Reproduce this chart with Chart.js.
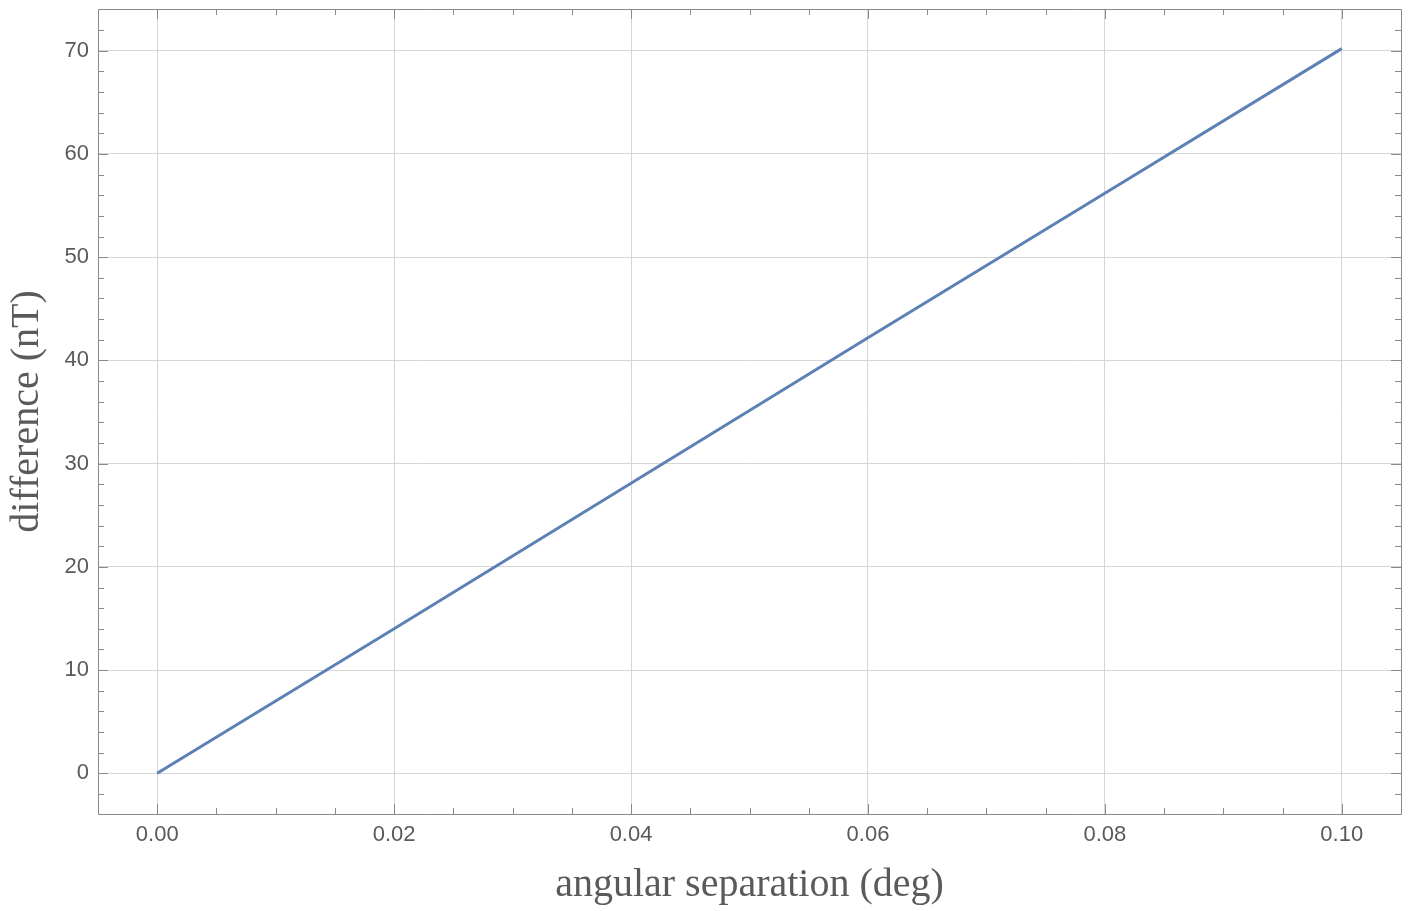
<!DOCTYPE html>
<html>
<head>
<meta charset="utf-8">
<script src="https://cdn.jsdelivr.net/npm/chart.js@4"></script>
<style>
  html, body { margin: 0; padding: 0; background: #fff; }
  canvas { display: block; }
</style>
</head>
<body>
<canvas id="plot" width="1412" height="911"></canvas>
<script>
// data
const separationDeg = [0, 0.02, 0.04, 0.06, 0.08, 0.10];
const differenceNT = [0, 14.0, 28.1, 42.2, 56.2, 70.2];

// axis ticks
const xTicks = [0, 0.02, 0.04, 0.06, 0.08, 0.10];
const yTicks = [0, 10, 20, 30, 40, 50, 60, 70];
const xMinorStep = 0.005;
const yMinorStep = 2;

const frameColor = '#8a8a8a';
const gridColor = '#d6d6d6';
const textColor = '#5a5a5a';

// frame with inward ticks on all four sides, like the original plot
const framePlugin = {
  id: 'frame',
  afterDraw(chart) {
    const { ctx, chartArea: a, scales } = chart;
    const xs = scales.x, ys = scales.y;
    ctx.save();
    ctx.strokeStyle = frameColor;
    ctx.lineWidth = 1;
    ctx.beginPath();
    ctx.rect(Math.round(a.left) + 0.5, Math.round(a.top) + 0.5,
      Math.round(a.right - a.left), Math.round(a.bottom - a.top));
    ctx.stroke();

    const tickX = (v, len) => {
      const px = Math.round(xs.getPixelForValue(v)) + 0.5;
      if (px < a.left + 1 || px > a.right - 1) return;
      ctx.moveTo(px, a.bottom); ctx.lineTo(px, a.bottom - len);
      ctx.moveTo(px, a.top); ctx.lineTo(px, a.top + len);
    };
    const tickY = (v, len) => {
      const py = Math.round(ys.getPixelForValue(v)) + 0.5;
      if (py < a.top + 1 || py > a.bottom - 1) return;
      ctx.moveTo(a.left, py); ctx.lineTo(a.left + len, py);
      ctx.moveTo(a.right, py); ctx.lineTo(a.right - len, py);
    };

    ctx.beginPath();
    for (let i = Math.ceil(xs.min / xMinorStep); i * xMinorStep <= xs.max; i++) {
      const v = i * xMinorStep;
      if (!xTicks.some(t => Math.abs(t - v) < 1e-9)) tickX(v, 6);
    }
    for (let i = Math.ceil(ys.min / yMinorStep); i * yMinorStep <= ys.max; i++) {
      const v = i * yMinorStep;
      if (!yTicks.includes(v)) tickY(v, 6);
    }
    xTicks.forEach(v => tickX(v, 10));
    yTicks.forEach(v => tickY(v, 10));
    ctx.stroke();
    ctx.restore();
  }
};

new Chart(document.getElementById('plot').getContext('2d'), {
  type: 'line',
  data: {
    datasets: [{
      data: separationDeg.map((x, i) => ({ x: x, y: differenceNT[i] })),
      borderColor: '#5e81b5',
      borderWidth: 3,
      pointRadius: 0,
      tension: 0,
      fill: false
    }]
  },
  options: {
    responsive: false,
    devicePixelRatio: 1,
    animation: false,
    layout: { autoPadding: false, padding: { top: 9, right: 11, left: 0, bottom: 0 } },
    plugins: { legend: { display: false }, tooltip: { enabled: false } },
    scales: {
      x: {
        type: 'linear',
        min: -0.005,
        max: 0.105,
        afterBuildTicks: s => { s.ticks = xTicks.map(v => ({ value: v })); },
        afterFit: s => { s.height = 97; s.paddingLeft = 0; s.paddingRight = 0; },
        grid: { color: gridColor, drawTicks: false },
        border: { display: false },
        ticks: {
          color: textColor,
          padding: 8,
          font: { family: 'Liberation Sans', size: 22 },
          callback: v => v.toFixed(2)
        },
        title: {
          display: true,
          text: 'angular separation (deg)',
          color: textColor,
          padding: { top: 0, bottom: 2 },
          font: { family: 'Liberation Serif', size: 40 }
        }
      },
      y: {
        type: 'linear',
        min: -3.94,
        max: 74.04,
        afterBuildTicks: s => { s.ticks = yTicks.map(v => ({ value: v })); },
        afterFit: s => { s.width = 98; s.paddingTop = 0; s.paddingBottom = 0; },
        grid: { color: gridColor, drawTicks: false },
        border: { display: false },
        ticks: {
          color: textColor,
          padding: 9,
          font: { family: 'Liberation Sans', size: 22 },
          callback: v => String(v)
        },
        title: {
          display: true,
          text: 'difference (nT)',
          color: textColor,
          padding: { top: 3, bottom: 0 },
          font: { family: 'Liberation Serif', size: 40 }
        }
      }
    }
  },
  plugins: [framePlugin]
});
</script>
</body>
</html>
